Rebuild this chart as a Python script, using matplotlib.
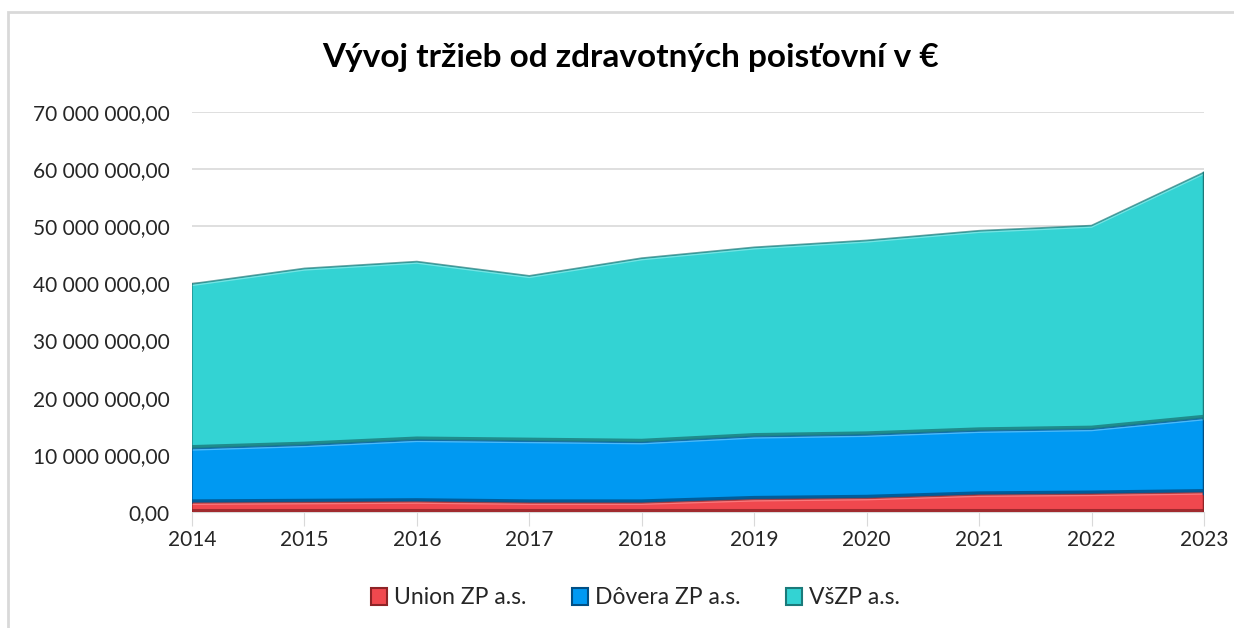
import numpy as np
import matplotlib
matplotlib.use("Agg")
import matplotlib.pyplot as plt
from matplotlib.patches import Rectangle
from matplotlib.ticker import FuncFormatter

years = [2014, 2015, 2016, 2017, 2018, 2019, 2020, 2021, 2022, 2023]
union = [1.6, 1.7, 1.8, 1.6, 1.6, 2.2, 2.4, 3.0, 3.15, 3.4]
dovera = [9.5, 10.0, 10.8, 10.8, 10.6, 11.0, 11.1, 11.2, 11.35, 13.0]
vszp = [28.8, 30.9, 31.2, 28.9, 32.2, 33.1, 34.0, 35.0, 35.6, 43.0]
names = ["Union ZP a.s.", "Dôvera ZP a.s.", "VšZP a.s."]
face = ["#f0484e", "#0099f2", "#33d3d3"]
dark = ["#8e2326", "#004f85", "#1b7a7a"]
light = ["#ff9a9c", "#7fd0ff", "#9ff0f0"]

plt.rcParams['font.family'] = ['Lato', 'DejaVu Sans']

fig = plt.figure(figsize=(12.34, 6.28), dpi=100)
# light chart frame
fig.patches.append(Rectangle((8 / 1234, -0.1), 1.2, 1 - 12 / 628 + 0.1,
                             transform=fig.transFigure, fill=False,
                             edgecolor="#d9d9d9", linewidth=2))
ax = fig.add_axes([192 / 1234, 1 - 512 / 628, (1204 - 192) / 1234, 400 / 628])

x = np.array(years)
series = [np.array(union) * 1e6, np.array(dovera) * 1e6, np.array(vszp) * 1e6]
base = np.zeros(len(x))
for s, fc, dk, lt in zip(series, face, dark, light):
    top = base + s
    ax.fill_between(x, base, top, facecolor=fc, edgecolor="none", zorder=2)
    # rough bevel: dark inner band at bottom, highlight on top
    ax.plot(x, base + 0.35e6, color=dk, lw=2.2, alpha=0.8, zorder=3)
    ax.plot(x, top, color=dk, lw=1.4, alpha=0.7, zorder=3)
    ax.plot(x, top - 0.25e6, color=lt, lw=1.0, alpha=0.6, zorder=3)
    ax.plot([x[-1], x[-1]], [base[-1], top[-1]], color=dk, lw=2.5, zorder=3)
    ax.plot([x[0], x[0]], [base[0], top[0]], color=dk, lw=1.2, alpha=0.7, zorder=3)
    base = top

ax.set_xlim(2014, 2023)
ax.set_ylim(0, 70e6)
ax.set_yticks(np.arange(0, 70e6 + 1, 10e6))
ax.set_xticks(years)
ax.yaxis.set_major_formatter(FuncFormatter(
    lambda v, p: "{:,.2f}".format(v).replace(",", " ").replace(".", ",")))
ax.grid(axis="y", color="#d9d9d9", lw=1.2, zorder=0)
ax.set_axisbelow(True)
for side in ["top", "right", "left"]:
    ax.spines[side].set_visible(False)
ax.spines["bottom"].set_color("#d9d9d9")
ax.tick_params(axis="y", length=0, pad=16, labelsize=15, labelcolor="#262626")
ax.tick_params(axis="x", length=10, color="#d9d9d9", pad=3, labelsize=15,
               labelcolor="#262626")

fig.text(0.511, 1 - 57 / 628, "Vývoj tržieb od zdravotných poisťovní v €",
         ha="center", va="center", fontsize=24, fontweight="bold", color="black")

handles = [Rectangle((0, 0), 1, 1, facecolor=fc, edgecolor=dk, lw=1.5)
           for fc, dk in zip(face, dark)]
fig.legend(handles, names, loc="center", bbox_to_anchor=(0.515, 1 - 598 / 628),
           ncol=3, frameon=False, fontsize=16.5, handlelength=0.7, handleheight=0.7,
           handletextpad=0.3, columnspacing=2.0, labelcolor="#262626")

fig.savefig("out.png", dpi=100)
